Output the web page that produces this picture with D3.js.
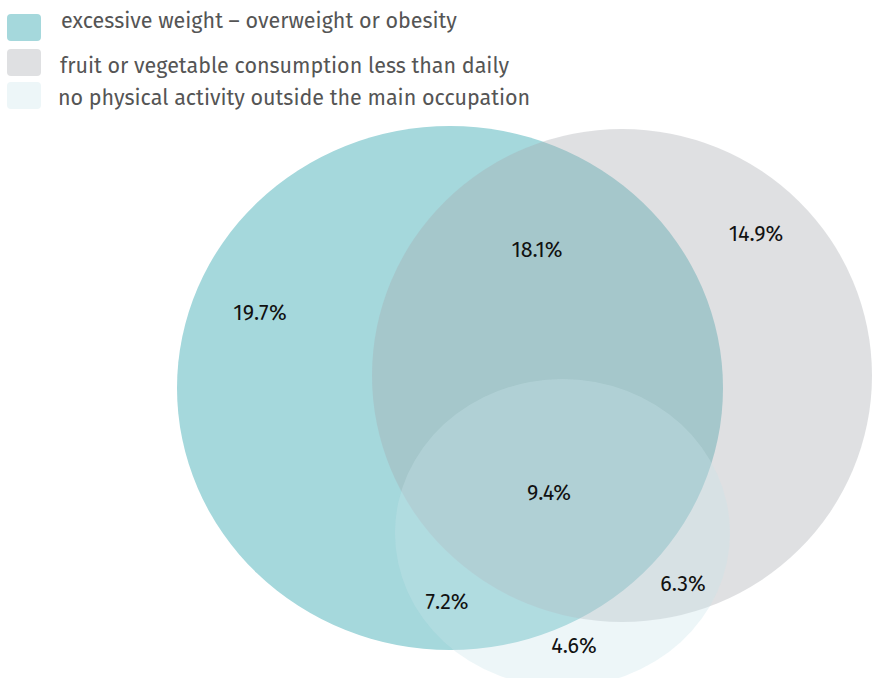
<!DOCTYPE html>
<html>
<head>
<meta charset="utf-8">
<script src="https://cdn.jsdelivr.net/npm/d3@7"></script>
<style>
  html, body { margin: 0; padding: 0; background: #fff; }
  svg { display: block; }
</style>
</head>
<body>
<svg id="chart" width="872" height="678"></svg>
<script>
// ---- data ----
const setNames = [
  "excessive weight – overweight or obesity",
  "fruit or vegetable consumption less than daily",
  "no physical activity outside the main occupation"
];
const regionSets = ["A", "B", "C", "AB", "AC", "BC", "ABC"];
const regionValues = [19.7, 14.9, 4.6, 18.1, 7.2, 6.3, 9.4];

// ---- layout (venn geometry in layout units) ----
const circleCX = [45.0, 62.2, 56.25];
const circleCY = [38.8, 37.55, 53.3];
const circleRX = [27.3, 25.0, 16.75];
const circleRY = [26.2, 24.65, 15.4];
const labelX = [26.0, 75.6, 57.4, 53.7, 44.7, 68.3, 54.9];
const labelY = [31.3, 23.4, 64.6, 25.0, 60.2, 58.4, 49.3];

const setFills = ["#a5d8dc", "rgb(165,168,174)", "rgb(200,228,234)"];
const setOpac = [1, 0.36, 0.33];
const legendFills = ["#a5d8dc", "#dfe0e2", "#edf6f8"];

const svg = d3.select("#chart");
const x = d3.scaleLinear().domain([0, 87.2]).range([0, 872]);
const y = d3.scaleLinear().domain([0, 67.8]).range([0, 678]);

const font = "'Fira Sans', Roboto, 'Noto Sans', sans-serif";

// circles
svg.append("g").selectAll("ellipse")
  .data(setNames)
  .join("ellipse")
  .attr("cx", (d, i) => x(circleCX[i]))
  .attr("cy", (d, i) => y(circleCY[i]))
  .attr("rx", (d, i) => x(circleRX[i]) - x(0))
  .attr("ry", (d, i) => y(circleRY[i]) - y(0))
  .attr("fill", (d, i) => setFills[i])
  .attr("fill-opacity", (d, i) => setOpac[i]);

// region labels
svg.append("g").selectAll("text")
  .data(regionValues)
  .join("text")
  .attr("x", (d, i) => x(labelX[i]))
  .attr("y", (d, i) => y(labelY[i]))
  .attr("text-anchor", "middle")
  .attr("dominant-baseline", "central")
  .attr("font-family", font)
  .attr("font-size", 21.5)
  .attr("fill", "#111")
  .text(d => d.toFixed(1) + "%");

// legend
const legendY = [14, 49, 82];
const legendTextY = [28, 73, 105];
const legendTextX = [61, 60, 58];
const lg = svg.append("g");
lg.selectAll("rect")
  .data(setNames)
  .join("rect")
  .attr("x", 7).attr("y", (d, i) => legendY[i])
  .attr("width", 34).attr("height", 27)
  .attr("rx", 4)
  .attr("fill", (d, i) => legendFills[i]);
lg.selectAll("text")
  .data(setNames)
  .join("text")
  .attr("x", (d, i) => legendTextX[i])
  .attr("y", (d, i) => legendTextY[i])
  .attr("font-family", font)
  .attr("font-size", 21.5)
  .attr("fill", "#555")
  .text(d => d);
</script>
</body>
</html>
